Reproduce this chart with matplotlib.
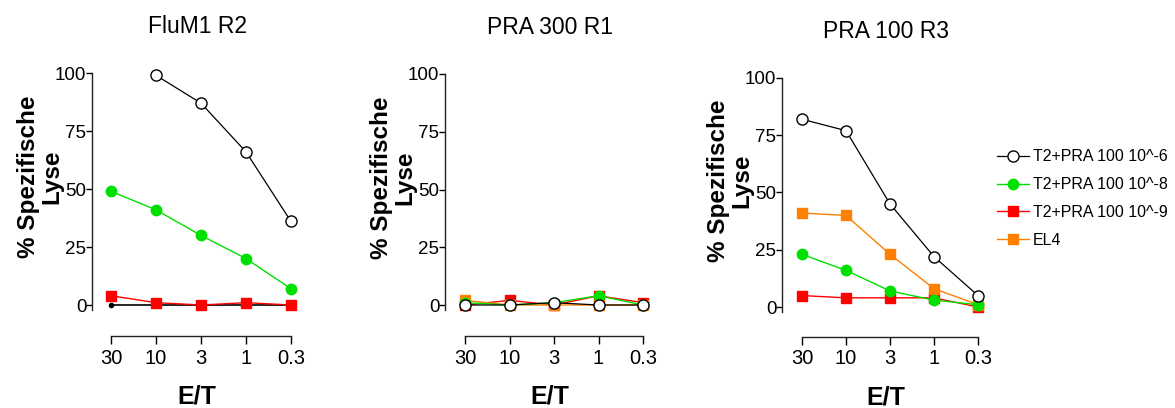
import matplotlib
matplotlib.use('Agg')
import matplotlib.pyplot as plt

plt.rcParams['font.family'] = ['Liberation Sans', 'DejaVu Sans']

# E/T ratios (categorical x)
et_labels = ['30', '10', '3', '1', '0.3']
et_pos = [0, 1, 2, 3, 4]

series_names = ['T2+PRA 100 10^-6', 'T2+PRA 100 10^-8', 'T2+PRA 100 10^-9', 'EL4']

# FluM1 R2
flu_e6 = [None, 99, 87, 66, 36]
flu_e8 = [49, 41, 30, 20, 7]
flu_e9 = [4, 1, 0, 1, 0]
flu_base = [0, 0, 0, 0, 0]

# PRA 300 R1
p300_e6 = [0, 0, 1, 0, 0]
p300_e8 = [1, 0, 1, 4, 0]
p300_e9 = [0, 2, 0, 4, 1]
p300_el4 = [2, 0, 0, 0, 0]

# PRA 100 R3
p100_e6 = [82, 77, 45, 22, 5]
p100_e8 = [23, 16, 7, 3, 1]
p100_e9 = [5, 4, 4, 4, 0]
p100_el4 = [41, 40, 23, 8, 1]

W, H = 1175, 408
fig = plt.figure(figsize=(W / 100, H / 100), dpi=100)

GREEN = '#00e000'
RED = '#ff0000'
ORANGE = '#ff8000'


def make_ax(spine_x, x0, x4, y100, y0, xaxis_y, title):
    step = (x4 - x0) / 4.0
    unit = (y0 - y100) / 100.0
    left_px = spine_x
    right_px = x4 + 0.25 * step
    top_px = y100 - 1 * unit
    bot_px = y0 + 3 * unit
    ax = fig.add_axes([left_px / W, (H - bot_px) / H,
                       (right_px - left_px) / W, (bot_px - top_px) / H])
    ax.set_xlim(-(x0 - spine_x) / step, 4.25)
    ax.set_ylim(-3, 101)
    for s in ['top', 'right']:
        ax.spines[s].set_visible(False)
    ax.spines['left'].set_bounds(-2, 100)
    ax.spines['bottom'].set_bounds(0, 4)
    ax.spines['bottom'].set_position(('outward', (xaxis_y - bot_px) * 0.72))
    for s in ['left', 'bottom']:
        ax.spines[s].set_linewidth(1.0)
        ax.spines[s].set_color('#222222')
    ax.set_yticks([0, 25, 50, 75, 100])
    ax.set_xticks(et_pos)
    ax.set_xticklabels(et_labels)
    ax.tick_params(axis='y', length=4, width=1, pad=0, labelsize=13.5)
    ax.tick_params(axis='x', length=6, width=1, pad=3, labelsize=14.5)
    ax.set_title(title, fontsize=16.5, pad=27)
    ax.set_xlabel('E/T', fontsize=18, fontweight='bold', labelpad=12)
    ax.set_ylabel('% Spezifische\nLyse', fontsize=17.5, fontweight='bold',
                  linespacing=1.0)
    ax.yaxis.set_label_coords(-(spine_x - (spine_x - 29)) / (right_px - left_px), 0.56)
    return ax


def draw(ax, e6, e8, e9, el4=None):
    h9, = ax.plot(et_pos, e9, color=RED, marker='s', ms=7, lw=1)
    hel = None
    if el4 is not None:
        hel, = ax.plot(et_pos, el4, color=ORANGE, marker='s', ms=7, lw=1)
    h8, = ax.plot(et_pos, e8, color=GREEN, marker='o', ms=7.5, lw=1)
    x6 = [x for x, v in zip(et_pos, e6) if v is not None]
    y6 = [v for v in e6 if v is not None]
    h6, = ax.plot(x6, y6, color='black', marker='o', ms=8, lw=0.9,
                  markerfacecolor='white', markeredgewidth=1)
    for h in (h6, h8, h9, hel):
        if h is not None:
            h.set_clip_on(False)
    return [h6, h8, h9, hel]


ax1 = make_ax(92, 111, 291, 73, 305, 336, 'FluM1 R2')
ax1.plot(et_pos, flu_base, color='black', lw=1.2, marker='o', ms=3,
         markevery=[0])
draw(ax1, flu_e6, flu_e8, flu_e9)

ax2 = make_ax(445, 465, 643, 74, 305, 336, 'PRA 300 R1')
draw(ax2, p300_e6, p300_e8, p300_e9, p300_el4)

ax3 = make_ax(782, 802, 978, 78, 307, 337, 'PRA 100 R3')
handles = draw(ax3, p100_e6, p100_e8, p100_e9, p100_el4)

fig.legend(handles, series_names, loc='upper left',
           bbox_to_anchor=(991 / W, 1 - 143 / H), frameon=False,
           fontsize=11.5, handlelength=2.0, handletextpad=0.2,
           labelspacing=0.8, borderaxespad=0)

fig.savefig('out.png', dpi=100)
